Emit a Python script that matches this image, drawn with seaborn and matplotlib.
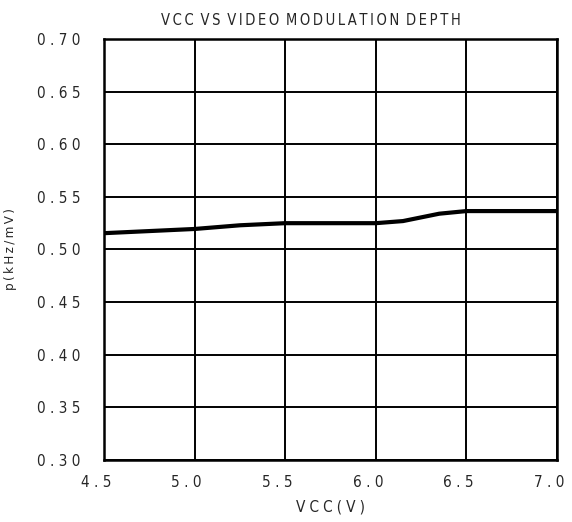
import matplotlib
matplotlib.use("Agg")
import matplotlib.pyplot as plt
import matplotlib.transforms as mtransforms
import seaborn as sns
import pandas as pd

# curve
vcc = [4.5, 4.75, 5.0, 5.25, 5.5, 5.75, 6.0, 6.15, 6.35, 6.5, 6.75, 7.0]
depth = [0.5155, 0.5175, 0.5195, 0.523, 0.525, 0.525, 0.525, 0.527, 0.534, 0.5365, 0.5365, 0.5365]

x_ticks = [4.5, 5.0, 5.5, 6.0, 6.5, 7.0]
y_ticks = [0.30, 0.35, 0.40, 0.45, 0.50, 0.55, 0.60, 0.65, 0.70]


def spaced(s, gap=" "):
    # the reference draws its text with wide letter spacing
    return gap.join(s)


sns.set_style("white")
plt.rcParams['font.family'] = ['DejaVu Sans']
plt.rcParams['font.stretch'] = 'condensed'

df = pd.DataFrame({"VCC": vcc, "p": depth})

fig = plt.figure(figsize=(5.72, 5.22), dpi=100)
ax = fig.add_axes([0.1818, 0.1188, 0.7920, 0.8065])
sns.lineplot(data=df, x="VCC", y="p", ax=ax, color="black", linewidth=3.0)

ax.set_xlim(4.5, 7.0)
ax.set_ylim(0.30, 0.70)
ax.set_xticks(x_ticks)
ax.set_yticks(y_ticks)
ax.set_xticklabels([spaced(f"{v:.1f}") for v in x_ticks], fontsize=11)
ax.set_yticklabels([spaced(f"{v:.2f}") for v in y_ticks], fontsize=11)
ax.tick_params(axis="both", length=0)
ax.tick_params(axis="y", pad=17)
ax.tick_params(axis="x", pad=11)

# x tick labels sit a little left of their grid lines in the reference
shift = mtransforms.ScaledTranslation(-0.08, 0, fig.dpi_scale_trans)
for lbl in ax.get_xticklabels():
    lbl.set_transform(lbl.get_transform() + shift)

ax.grid(True, color="black", linewidth=1.4)
ax.set_axisbelow(True)
for sp in ax.spines.values():
    sp.set_color("black")
    sp.set_linewidth(1.8)

ax.set_xlabel(spaced("VCC(V)", "\u2009\u200a"), fontsize=11, labelpad=7)
ax.set_ylabel(spaced("p(kHz/mV)", "\u2009"), fontsize=9.5, labelpad=14)
title = " \u2009".join(spaced(w, "\u2009") for w in "VCC VS VIDEO MODULATION DEPTH".split())
ax.set_title(title, fontsize=10.5, pad=10, x=0.457)

fig.savefig("out.png", dpi=100)
